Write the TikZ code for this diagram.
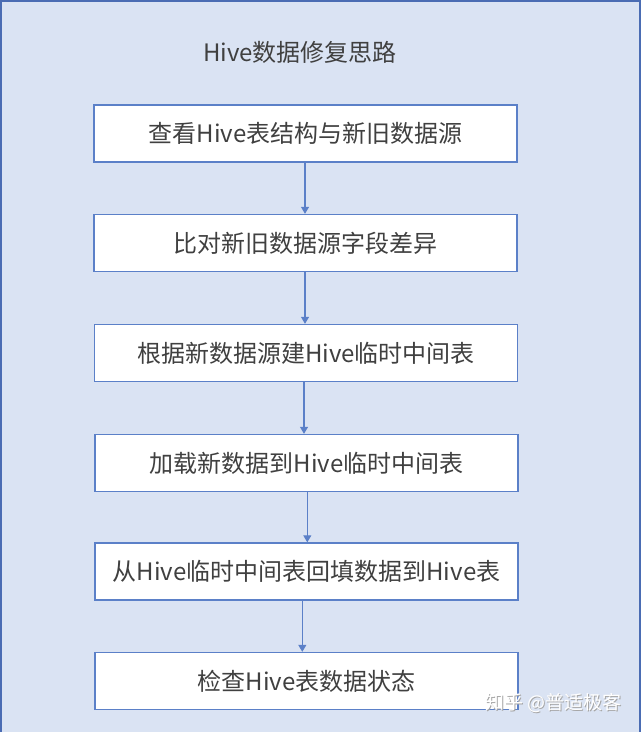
\documentclass[tikz,border=0pt]{standalone}
\usepackage{fontspec}
\setmainfont{Noto Sans CJK SC}
\usetikzlibrary{arrows.meta}
\definecolor{bgblue}{HTML}{DAE3F3}
\definecolor{frameblue}{HTML}{4A6CB3}
\definecolor{boxblue}{HTML}{5B80C8}
\definecolor{txt}{HTML}{404040}
\tikzset{
  stepbox/.style={draw=boxblue, line width=1.4pt, fill=white, minimum width=423pt,
    minimum height=57pt, inner sep=0pt, text=txt, font=\fontsize{24}{27}\selectfont},
  arr/.style={draw=boxblue, line width=1.2pt, -{Triangle[length=7pt,width=8pt]}},
  wmark/.style={font=\fontsize{19}{22}\selectfont, anchor=east},
}
\begin{document}
\begin{tikzpicture}[x=1pt,y=-1pt]
\useasboundingbox (0,0) rectangle (641,732);
\fill[bgblue] (0,0) rectangle (641,732);
\draw[frameblue, line width=2pt] (1,745) -- (1,1) -- (639.5,1) -- (639.5,745);
\node[text=txt, font=\fontsize{24}{27}\selectfont] (title) at (300,52) {Hive数据修复思路};
\node[stepbox] (b1) at (305.5,133.5) {查看Hive表结构与新旧数据源};
\node[stepbox] (b2) at (305.5,243) {比对新旧数据源字段差异};
\node[stepbox] (b3) at (306,353) {根据新数据源建Hive临时中间表};
\node[stepbox] (b4) at (306.5,463) {加载新数据到Hive临时中间表};
\node[stepbox] (b5) at (306.5,571.5) {从Hive临时中间表回填数据到Hive表};
\node[stepbox] (b6) at (306.5,681) {检查Hive表数据状态};
\node[wmark, text=black!35] (wms) at (625.8,704) {知乎 @普适极客};
\node[wmark, text=white] (wm) at (625,703) {知乎 @普适极客};
\draw[arr] ([xshift=-0.5pt]b1.south) -- ([xshift=-0.5pt]b2.north);
\draw[arr] ([xshift=-0.5pt]b2.south) -- ([xshift=-1pt]b3.north);
\draw[arr] ([xshift=-2pt]b3.south) -- ([xshift=-2.5pt]b4.north);
\draw[arr] ([xshift=0.8pt]b4.south) -- ([xshift=0.8pt]b5.north);
\draw[arr] ([xshift=-4.2pt]b5.south) -- ([xshift=-4.2pt]b6.north);
\end{tikzpicture}
\end{document}
